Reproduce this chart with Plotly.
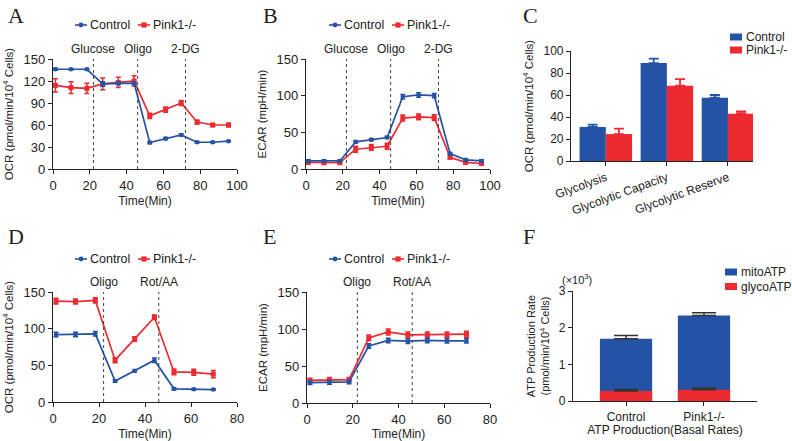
import plotly.graph_objects as go

W, H = 792, 441
BLUE = "#2453A6"
RED = "#EC2A2F"
INK = "#222222"
FONT = "Liberation Sans, Arial, Helvetica, sans-serif"

# ---------------- data ----------------
time_glyco = [1.3, 9.8, 18.4, 27.0, 35.5, 44.1, 52.6, 61.2, 69.7, 78.3, 86.8, 95.4]
time_mito = [1.3, 9.8, 18.4, 27.0, 35.5, 44.1, 52.6, 61.2, 69.7]

group_names = ["Control", "Pink1-/-"]

# A: OCR, glycolysis stress test
a_ctrl = [136, 136, 136, 116, 117, 117, 36, 41.5, 46.5, 36.5, 36.5, 38]
a_ctrl_err = [1.5, 1, 1, 3, 2, 2, 1.5, 1.5, 1.5, 1, 1, 1]
a_pink = [114, 111, 110, 116, 118, 120, 72.5, 81, 90, 64, 60, 60]
a_pink_err = [9, 8, 7, 8, 7, 7, 3.5, 3.5, 3.5, 2.5, 2, 2.5]

# B: ECAR, glycolysis stress test
b_ctrl = [11, 11, 11, 37, 40, 43, 98.5, 101, 100, 21, 12.5, 11]
b_ctrl_err = [1.5, 1.5, 1.5, 1.5, 1.5, 1.5, 3, 3, 3, 1.5, 1.5, 1.5]
b_pink = [9, 8.5, 8.5, 27, 29.5, 31, 69.5, 71, 70, 16, 9, 7.5]
b_pink_err = [2, 2, 2, 4, 4, 4, 4, 4, 4, 2, 2, 2]

inject_glyco = [22, 46, 72]
inject_glyco_labels = ["Glucose", "Oligo", "2-DG"]

# C: glycolysis parameters
c_categories = ["Glycolysis", "Glycolytic Capacity", "Glycolytic Reserve"]
c_ctrl = [31, 89, 57.5]
c_ctrl_err = [2, 4, 2.5]
c_pink = [24.5, 68.5, 43]
c_pink_err = [5, 6, 2]

# D: OCR, mito stress test
d_ctrl = [92, 92, 93, 28.5, 42.5, 57, 18, 17.5, 17]
d_ctrl_err = [3, 3, 3, 1.5, 1.5, 3, 1.5, 1, 1]
d_pink = [137.5, 137, 138.5, 57, 86, 115.5, 41, 40.5, 38]
d_pink_err = [4, 3.5, 3.5, 3.5, 3, 3, 4, 4, 5]

# E: ECAR, mito stress test
e_ctrl = [27.5, 28, 28.5, 77, 84.5, 83.5, 84.5, 84, 84]
e_ctrl_err = [2.5, 2.5, 2.5, 3, 3, 3, 3, 3, 3]
e_pink = [30.5, 31.5, 31.5, 88, 96, 92, 92, 92, 93]
e_pink_err = [3, 3, 3, 4, 4, 4, 4, 4, 4]

inject_mito = [22, 46]
inject_mito_labels = ["Oligo", "Rot/AA"]

# F: ATP production rate (pmol/min/10^4 cells)
f_categories = ["Control", "Pink1-/-"]
f_series = ["mitoATP", "glycoATP"]
f_glyco = [270, 305]
f_glyco_err = [45, 50]
f_mito = [1430, 2025]
f_total_err = [85, 80]

# ---------------- helpers ----------------
def px_x(p):
    return p / W

def px_y(p):
    return 1 - p / H

fig = go.Figure()

def line_pair(xs, ctrl, ctrl_err, pink, pink_err, ax):
    fig.add_trace(go.Scatter(
        x=xs, y=pink, name=group_names[1], mode="lines+markers",
        line=dict(color=RED, width=1.7),
        marker=dict(symbol="square", size=5, color=RED),
        error_y=dict(type="data", array=pink_err, color=RED, thickness=1.5, width=2.5),
        xaxis="x" + ax, yaxis="y" + ax, showlegend=False))
    fig.add_trace(go.Scatter(
        x=xs, y=ctrl, name=group_names[0], mode="lines+markers",
        line=dict(color=BLUE, width=1.7),
        marker=dict(symbol="circle", size=4.5, color=BLUE),
        error_y=dict(type="data", array=ctrl_err, color=BLUE, thickness=1.5, width=2.5),
        xaxis="x" + ax, yaxis="y" + ax, showlegend=False))

line_pair(time_glyco, a_ctrl, a_ctrl_err, a_pink, a_pink_err, "")
line_pair(time_glyco, b_ctrl, b_ctrl_err, b_pink, b_pink_err, "2")
line_pair(time_mito, d_ctrl, d_ctrl_err, d_pink, d_pink_err, "4")
line_pair(time_mito, e_ctrl, e_ctrl_err, e_pink, e_pink_err, "5")

# C bars
BW_C = 0.43
fig.add_trace(go.Bar(
    x=c_categories, y=c_ctrl, name=group_names[0], marker=dict(color=BLUE, line=dict(width=0)),
    width=BW_C, offset=-BW_C, showlegend=False,
    error_y=dict(type="data", array=c_ctrl_err, arrayminus=[0] * 3, symmetric=False,
                 color=BLUE, thickness=1.8, width=5),
    xaxis="x3", yaxis="y3"))
fig.add_trace(go.Bar(
    x=c_categories, y=c_pink, name=group_names[1], marker=dict(color=RED, line=dict(width=0)),
    width=BW_C, offset=0, showlegend=False,
    error_y=dict(type="data", array=c_pink_err, arrayminus=[0] * 3, symmetric=False,
                 color=RED, thickness=1.8, width=5),
    xaxis="x3", yaxis="y3"))

# F bars (glyco at base, mito stacked on top)
BW_F = 0.67
f_total = [g + m for g, m in zip(f_glyco, f_mito)]
fig.add_trace(go.Bar(
    x=f_categories, y=f_total, name=f_series[0], marker=dict(color=BLUE, line=dict(width=0)),
    width=BW_F, offset=-BW_F / 2, showlegend=False,
    error_y=dict(type="data", array=f_total_err, arrayminus=[0, 0], symmetric=False,
                 color="#333333", thickness=1.5, width=12),
    xaxis="x6", yaxis="y6"))
fig.add_trace(go.Bar(
    x=f_categories, y=f_glyco, name=f_series[1], marker=dict(color=RED, line=dict(width=0)),
    width=BW_F, offset=-BW_F / 2, showlegend=False,
    error_y=dict(type="data", array=f_glyco_err, arrayminus=[0, 0], symmetric=False,
                 color="#333333", thickness=1.5, width=12),
    xaxis="x6", yaxis="y6"))

# ---------------- axes ----------------
def axis_common(size=13):
    return dict(showline=True, linecolor=INK, linewidth=1.2, ticks="outside", ticklen=4,
                tickwidth=1.2, tickcolor=INK, showgrid=False, zeroline=False,
                tickfont=dict(size=size, color=INK, family=FONT))

OCR_T = "OCR (pmol/min/10<sup>4</sup> Cells)"
ECAR_T = "ECAR (mpH/min)"

panels = {
    "": dict(x=(53, 237), y=(169, 59)),
    "2": dict(x=(306, 490), y=(169, 59)),
    "3": dict(x=(571, 753), y=(161, 51)),
    "4": dict(x=(53, 237), y=(402, 292)),
    "5": dict(x=(307, 490), y=(403, 292)),
    "6": dict(x=(573, 757), y=(401, 291)),
}

lay = {}
for k, p in panels.items():
    xa = axis_common(13)
    ya = axis_common(13)
    xa["domain"] = [px_x(p["x"][0]), px_x(p["x"][1])]
    ya["domain"] = [px_y(p["y"][0]), px_y(p["y"][1])]
    xa["anchor"] = "y" + k
    ya["anchor"] = "x" + k
    lay["xaxis" + k] = xa
    lay["yaxis" + k] = ya

xt = dict(text="Time(Min)", font=dict(size=12, color=INK, family=FONT), standoff=4)
ytf = dict(size=11.5, color=INK, family=FONT)

lay["xaxis"].update(range=[0, 100], tickvals=[0, 20, 40, 60, 80, 100], title=xt)
lay["yaxis"].update(range=[0, 150], tickvals=[0, 30, 60, 90, 120, 150],
                    title=dict(text=OCR_T, font=ytf, standoff=7))
lay["xaxis2"].update(range=[0, 100], tickvals=[0, 20, 40, 60, 80, 100], title=xt)
lay["yaxis2"].update(range=[0, 150], tickvals=[0, 50, 100, 150],
                     title=dict(text=ECAR_T, font=ytf, standoff=7))
lay["xaxis4"].update(range=[0, 80], tickvals=[0, 20, 40, 60, 80], title=xt)
lay["yaxis4"].update(range=[0, 150], tickvals=[0, 50, 100, 150],
                     title=dict(text=OCR_T, font=ytf, standoff=7))
lay["xaxis5"].update(range=[0, 80], tickvals=[0, 20, 40, 60, 80], title=xt)
lay["yaxis5"].update(range=[0, 150], tickvals=[0, 50, 100, 150],
                     title=dict(text=ECAR_T, font=ytf, standoff=7))

lay["xaxis3"].update(range=[-0.57, 2.41], tickangle=-20, tickfont=dict(size=12, color=INK, family=FONT))
lay["yaxis3"].update(range=[0, 100], tickvals=[0, 20, 40, 60, 80, 100], tickfont=dict(size=12, color=INK, family=FONT),
                     title=dict(text=OCR_T, font=ytf, standoff=7))

lay["xaxis6"].update(range=[-0.68, 1.68], tickfont=dict(size=12, color=INK, family=FONT),
                     title=dict(text="ATP Production(Basal Rates)", font=dict(size=12, color=INK, family=FONT), standoff=2))
lay["yaxis6"].update(range=[0, 3000], tickvals=[0, 1000, 2000, 3000], ticktext=["0", "1", "2", "3"],
                     tickfont=dict(size=12, color=INK, family=FONT),
                     title=dict(text="ATP Production Rate<br>(pmol/min/10<sup>4</sup> Cells)",
                                font=dict(size=11, color=INK, family=FONT), standoff=6))

# ---------------- shapes / annotations ----------------
shapes = []
annotations = []

def label(text, x, y, size=12, xanchor="left"):
    annotations.append(dict(xref="paper", yref="paper", x=px_x(x), y=px_y(y), xanchor=xanchor,
                            yanchor="middle", showarrow=False, text=text,
                            font=dict(size=size, color=INK, family=FONT)))

def line_key(x0, yc, color, symbol, text):
    shapes.append(dict(type="line", xref="paper", yref="paper", x0=px_x(x0), x1=px_x(x0 + 12),
                       y0=px_y(yc), y1=px_y(yc), line=dict(color=color, width=1.6)))
    r = 2.4 if symbol == "circle" else 2.6
    cx = x0 + 6
    shapes.append(dict(type="circle" if symbol == "circle" else "rect", xref="paper", yref="paper",
                       x0=px_x(cx - r), x1=px_x(cx + r), y0=px_y(yc + r), y1=px_y(yc - r),
                       fillcolor=color, line=dict(width=0)))
    label(text, x0 + 13, yc, size=12.5)

def box_key(x0, yc, color, text):
    shapes.append(dict(type="rect", xref="paper", yref="paper", x0=px_x(x0), x1=px_x(x0 + 12),
                       y0=px_y(yc + 3.5), y1=px_y(yc - 3.5), fillcolor=color, line=dict(width=0)))
    label(text, x0 + 14, yc)

for dx, yc in [(0, 25), (254, 25), (0, 259), (254, 259)]:
    line_key(75 + dx, yc, BLUE, "circle", group_names[0])
    line_key(138 + dx, yc, RED, "square", group_names[1])

box_key(730, 37, BLUE, group_names[0])
box_key(730, 50, RED, group_names[1])
box_key(725, 272, BLUE, f_series[0])
box_key(725, 286.5, RED, f_series[1])

def injections(ax, xs, labels):
    yr = ("y" + ax + " domain") if ax else "y domain"
    for xv, lab in zip(xs, labels):
        shapes.append(dict(type="line", xref="x" + ax, yref=yr,
                           x0=xv, x1=xv, y0=0, y1=1,
                           line=dict(color="#444444", width=1, dash="dot")))
        annotations.append(dict(xref="x" + ax, yref=yr,
                                x=xv, y=1, yanchor="bottom", yshift=1, showarrow=False, text=lab,
                                font=dict(size=12, color=INK, family=FONT)))

injections("", inject_glyco, inject_glyco_labels)
injections("2", inject_glyco, inject_glyco_labels)
injections("4", inject_mito, inject_mito_labels)
injections("5", inject_mito, inject_mito_labels)

for letter, lx, ly in [("A", 6, 15), ("B", 261, 15), ("C", 521, 15),
                       ("D", 6, 236), ("E", 261, 236), ("F", 521, 236)]:
    annotations.append(dict(xref="paper", yref="paper", x=px_x(lx), y=px_y(ly), xanchor="left",
                            yanchor="middle", showarrow=False, text=letter,
                            font=dict(size=22, color=INK, family="Liberation Serif, Times New Roman, serif")))

label("(×10<sup>3</sup>)", 577, 278.5, size=11, xanchor="center")

fig.update_layout(
    width=W, height=H, margin=dict(l=0, r=0, t=0, b=0, autoexpand=False),
    paper_bgcolor="white", plot_bgcolor="white",
    barmode="overlay", showlegend=False,
    font=dict(family=FONT, color=INK),
    shapes=shapes, annotations=annotations,
    **lay)

fig.write_html("out.html", config={"displayModeBar": False},
               post_script="document.body.style.margin='0px';")
